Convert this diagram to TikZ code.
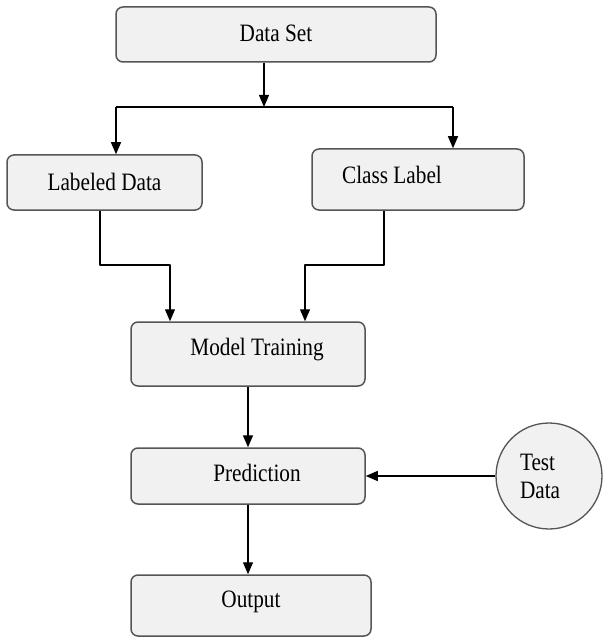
\documentclass[tikz,border=0pt]{standalone}
\usepackage{fontspec}
\setmainfont{Liberation Serif}[FakeStretch=0.85]
\usetikzlibrary{arrows.meta}

\definecolor{boxfill}{HTML}{F1F1F1}
\definecolor{boxedge}{HTML}{555555}
\tikzset{
  flow box/.style={draw=boxedge, fill=boxfill, line width=1.5pt, rounded corners=7pt,
    inner sep=0pt, text height=17pt, font=\fontsize{25}{28}\selectfont},
  flow line/.style={black, line width=1.3pt},
  flow arrow/.style={flow line, -{Triangle[length=12pt,width=10pt]}},
  test circle/.style={circle, draw=boxedge, fill=boxfill, line width=1.3pt, minimum size=106pt,
    inner sep=0pt, text width=58pt, align=left, font=\fontsize{25}{28}\selectfont},
}

\begin{document}
\begin{tikzpicture}[x=1pt, y=-1pt, line join=round]
  \useasboundingbox (0,0) rectangle (604,639);

  \node[flow box, minimum width=320pt, minimum height=55pt, text depth=3pt] (dataset) at (276,34.5) {Data Set};
  \node[flow box, minimum width=195pt, minimum height=55pt, text depth=1pt] (labeled) at (104.5,182.5) {Labeled Data};
  \node[flow box, minimum width=212pt, minimum height=61pt, text depth=9pt] (classlbl) at (418,179.5) {Class Label\hspace*{52pt}};
  \node[flow box, minimum width=234pt, minimum height=64pt, text depth=14pt] (training) at (248,354) {\hspace*{18pt}Model Training};
  \node[flow box, minimum width=234pt, minimum height=56pt, text depth=6pt] (predict) at (248,476) {\hspace*{18pt}Prediction};
  \node[flow box, minimum width=240pt, minimum height=61pt, text depth=14pt] (output) at (251,605.5) {Output};
  \node[test circle] (testdata) at (549,476) {Test\\Data};

  % split from the data set
  \coordinate (split) at (264,107);
  \coordinate (splitL) at (116,107);
  \coordinate (splitR) at (453,107);
  \draw[flow arrow] (dataset.south -| split) -- (split);
  \draw[flow line] (splitL) -- (splitR);
  \draw[flow arrow] (splitL) -- (splitL |- labeled.north);
  \draw[flow arrow] (splitR) -- (splitR |- classlbl.north);

  % merge into training
  \coordinate (mergeL) at (100,265);
  \coordinate (mergeR) at (384,265);
  \draw[flow arrow] (labeled.south -| mergeL) -- (mergeL) -| ([xshift=-78pt]training.north);
  \draw[flow arrow] (classlbl.south -| mergeR) -- (mergeR) -| ([xshift=57pt]training.north);

  \draw[flow arrow] (training.south) -- (predict.north);
  \draw[flow arrow] (testdata.west) -- (predict.east);
  \draw[flow arrow] (predict.south) -- (predict.south |- output.north);
\end{tikzpicture}
\end{document}
